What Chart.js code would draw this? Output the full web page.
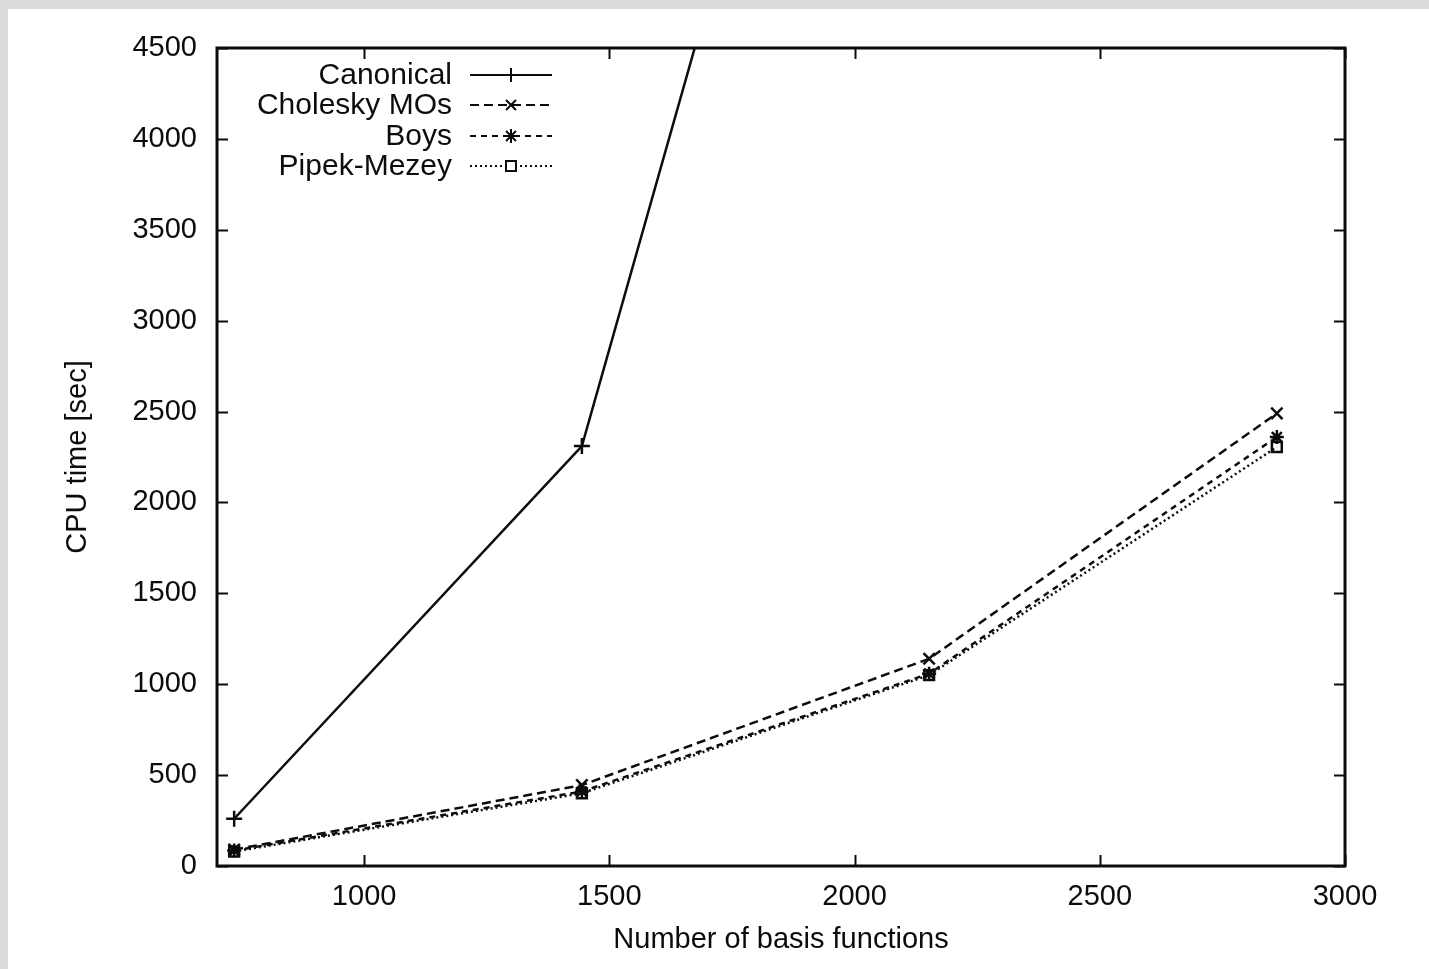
<!DOCTYPE html>
<html>
<head>
<meta charset="utf-8">
<script src="https://cdn.jsdelivr.net/npm/chart.js@4.4.1/dist/chart.umd.min.js"></script>
<style>
  html, body { margin: 0; padding: 0; background: #dcdcdc; }
  #wrap { position: absolute; left: 0; top: 0; width: 1429px; height: 969px; }
</style>
</head>
<body>
<div id="wrap"><canvas id="c" width="1429" height="969"></canvas></div>
<script>
// basis-function counts (x) and CPU times in seconds (y)
const basisFunctions = [735, 1444, 2152, 2861];
const canonical   = [260, 2310, 9050];
const choleskyMOs = [90, 445, 1140, 2490];
const boys        = [85, 410, 1058, 2360];
const pipekMezey  = [80, 400, 1050, 2305];

const xTickValues = [1000, 1500, 2000, 2500, 3000];
const yTickValues = [0, 500, 1000, 1500, 2000, 2500, 3000, 3500, 4000, 4500];

const FONT = "'Liberation Sans', Arial, sans-serif";
const INK = "#0c0c0c";

const SERIES = [
  { label: "Canonical",     values: canonical,   dash: [],     point: "cross",    radius: 8 },
  { label: "Cholesky MOs",  values: choleskyMOs, dash: [9, 5], point: "crossRot", radius: 8 },
  { label: "Boys",          values: boys,        dash: [6, 5], point: "star",     radius: 7 },
  { label: "Pipek-Mezey",   values: pipekMezey,  dash: [2, 3], point: "rect",     radius: 7 },
];

function toPoints(vals) {
  return vals.map((v, i) => ({ x: basisFunctions[i], y: v }));
}

// grey scan margin + white page
const pagePlugin = {
  id: "page",
  beforeDraw(chart) {
    const ctx = chart.ctx;
    ctx.save();
    ctx.fillStyle = "#dcdcdc";
    ctx.fillRect(0, 0, chart.width, chart.height);
    ctx.fillStyle = "#fff";
    ctx.fillRect(8, 9, chart.width - 8, chart.height - 9);
    ctx.restore();
  }
};

// gnuplot style frame with inward ticks on all four sides
const framePlugin = {
  id: "frame",
  afterDraw(chart) {
    const { ctx, chartArea: a, scales } = chart;
    const len = 11;
    ctx.save();
    ctx.strokeStyle = INK;
    ctx.lineWidth = 2;
    ctx.beginPath();
    xTickValues.forEach(v => {
      const px = Math.round(scales.x.getPixelForValue(v)) + 0.5;
      ctx.moveTo(px, a.bottom); ctx.lineTo(px, a.bottom - len);
      ctx.moveTo(px, a.top);    ctx.lineTo(px, a.top + len);
    });
    yTickValues.forEach(v => {
      const py = Math.round(scales.y.getPixelForValue(v)) + 0.5;
      ctx.moveTo(a.left, py);  ctx.lineTo(a.left + len, py);
      ctx.moveTo(a.right, py); ctx.lineTo(a.right - len, py);
    });
    ctx.stroke();
    ctx.lineWidth = 3;
    ctx.strokeRect(a.left, a.top, a.right - a.left, a.bottom - a.top);
    ctx.restore();
  }
};

// legend: right-aligned label, line sample to its right
const keyPlugin = {
  id: "key",
  afterDraw(chart) {
    const ctx = chart.ctx;
    const textRight = 452, x0 = 470, x1 = 552, mid = 511;
    const rows = [75, 105, 136, 166];
    ctx.save();
    ctx.font = "30px " + FONT;
    ctx.textAlign = "right";
    ctx.textBaseline = "middle";
    chart.data.datasets.forEach((ds, i) => {
      const y = rows[i];
      ctx.fillStyle = INK;
      ctx.fillText(ds.label, textRight, y + 1);
      ctx.strokeStyle = INK;
      ctx.lineWidth = 2;
      ctx.setLineDash(ds.borderDash || []);
      ctx.beginPath();
      ctx.moveTo(x0, y); ctx.lineTo(x1, y);
      ctx.stroke();
      ctx.setLineDash([]);
      if (ds.pointStyle === "rect") {
        ctx.fillStyle = "#fff";
        ctx.fillRect(mid - 5, y - 5, 10, 10);
        ctx.strokeRect(mid - 5, y - 5, 10, 10);
      } else {
        Chart.helpers.drawPoint(ctx, {
          pointStyle: ds.pointStyle, radius: 7, rotation: 0, borderWidth: 2
        }, mid, y);
      }
    });
    ctx.restore();
  }
};

new Chart(document.getElementById("c"), {
  type: "line",
  data: {
    datasets: SERIES.map(s => ({
      label: s.label,
      data: toPoints(s.values),
      borderColor: INK,
      backgroundColor: INK,
      borderWidth: 2.5,
      borderDash: s.dash,
      pointStyle: s.point,
      pointRadius: s.radius,
      pointBorderWidth: 2.5,
      pointBorderColor: INK,
      pointBackgroundColor: s.point === "rect" ? "rgba(0,0,0,0)" : INK,
      tension: 0,
      fill: false,
    }))
  },
  options: {
    responsive: false,
    animation: false,
    devicePixelRatio: 1,
    layout: { padding: { top: 48, right: 84, left: 0, bottom: 0 } },
    plugins: {
      legend: { display: false },
      tooltip: { enabled: false }
    },
    scales: {
      x: {
        type: "linear",
        min: 700, max: 3000,
        afterFit(scale) { scale.height = 103; },
        afterBuildTicks(scale) { scale.ticks = xTickValues.map(v => ({ value: v })); },
        grid: { display: false, drawTicks: false },
        border: { display: false },
        ticks: {
          color: INK, padding: 14,
          font: { family: FONT, size: 29 },
          maxRotation: 0,
          callback: v => String(v)
        },
        title: {
          display: true, text: "Number of basis functions", color: INK,
          font: { family: FONT, size: 29 },
          padding: { top: 0, bottom: 12 }
        }
      },
      y: {
        type: "linear",
        min: 0, max: 4500,
        afterFit(scale) { scale.width = 217; },
        afterBuildTicks(scale) { scale.ticks = yTickValues.map(v => ({ value: v })); },
        grid: { display: false, drawTicks: false },
        border: { display: false },
        ticks: {
          color: INK, padding: 20,
          font: { family: FONT, size: 29 },
          callback: v => String(v)
        },
        title: {
          display: true, text: "CPU time [sec]", color: INK,
          font: { family: FONT, size: 29 },
          padding: { top: 61, bottom: 0 }
        }
      }
    }
  },
  plugins: [pagePlugin, framePlugin, keyPlugin]
});
</script>
</body>
</html>
